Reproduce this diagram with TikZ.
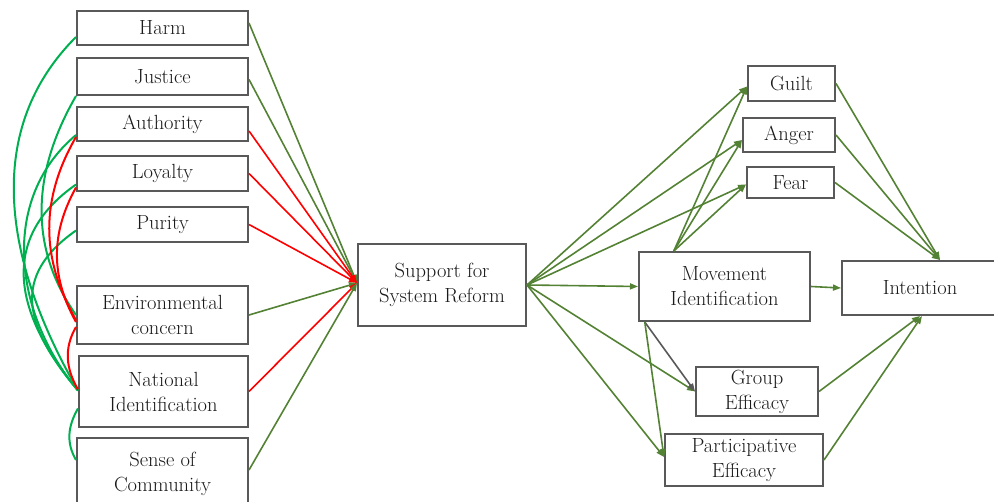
\documentclass[tikz,border=0pt]{standalone}
\usepackage{fontspec}
\definecolor{pathgreen}{HTML}{548235}
\definecolor{corrgreen}{HTML}{00B050}
\definecolor{negred}{HTML}{FF0000}
\definecolor{boxgray}{HTML}{595959}
\definecolor{boxtext}{HTML}{1A1A1A}
\usetikzlibrary{arrows.meta, positioning}
\newcommand{\varfont}{\rmfamily\fontsize{20.5}{25}\selectfont}

\begin{document}
\begin{tikzpicture}[x=1pt, y=-1pt,
    var/.style={draw=boxgray, line width=2pt, fill=white, text=boxtext,
      inner sep=0pt, align=center, font=\varfont},
    effect/.style={draw=pathgreen, line width=1.6pt,
      -{Triangle[length=8pt, width=6pt]}},
    negeffect/.style={effect, draw=negred, fill=negred},
    grayeffect/.style={effect, draw=boxgray},
    corrpos/.style={draw=corrgreen, line width=2pt},
    corrneg/.style={draw=negred, line width=2pt}]
        \useasboundingbox (0,0) rectangle (994,502);
        % Predictors
        \node[var, minimum width=171, minimum height=34] (harm) at (162.5,28) {Harm};
        \node[var, minimum width=171, minimum height=37] (just) at (162.5,76.5) {Justice};
        \node[var, minimum width=171, minimum height=34] (auth) at (162.5,124) {Authority};
        \node[var, minimum width=171, minimum height=35] (loy) at (162.5,173.5) {Loyalty};
        \node[var, minimum width=171, minimum height=35] (pur) at (162.5,224.5) {Purity};
        \node[var, minimum width=171, minimum height=58] (env) at (162.5,315) {Environmental\\concern};
        \node[var, minimum width=169, minimum height=71] (nat) at (163.5,391.5) {National\\Identification};
        \node[var, minimum width=171, minimum height=72] (sense) at (162.5,474) {Sense of\\Community};
        % Central variable
        \node[var, minimum width=168, minimum height=82] (sup) at (442,285) {Support for\\System Reform};
        % Outcomes
        \node[var, minimum width=171, minimum height=69] (mov) at (724.5,286.5) {Movement\\Identification};
        \node[var, minimum width=87, minimum height=35] (guilt) at (791.5,83.5) {Guilt};
        \node[var, minimum width=92, minimum height=34] (anger) at (789,135) {Anger};
        \node[var, minimum width=87, minimum height=31] (fear) at (790.5,182.5) {Fear};
        \node[var, minimum width=122, minimum height=49] (grp) at (757,391.5) {Group\\Efficacy};
        \node[var, minimum width=158, minimum height=52] (part) at (744,460) {Participative\\Efficacy};
        \node[var, minimum width=156, minimum height=54] (int) at (920,288) {Intention};
        % Correlations
        \draw[corrpos] ([yshift=-9pt]harm.west) to[out=225, in=120] ([yshift=1pt]nat.west);
        \draw[corrpos] (just.south west) to[out=240, in=125] (env.west);
        \draw[corrpos] ([yshift=-11pt]auth.west) to[out=220, in=130] ([yshift=1pt]nat.west);
        \draw[corrpos] ([yshift=-11pt]loy.west) to[out=215, in=130, looseness=1.2] ([yshift=1pt]nat.west);
        \draw[corrpos] ([yshift=-6pt]pur.west) to[out=215, in=130, looseness=1.3] ([yshift=1pt]nat.west);
        \draw[corrpos] ([yshift=-17pt]nat.west) to[out=240, in=120] ([yshift=14pt]sense.west);
        \draw[corrneg] ([yshift=-13pt]auth.west) to[out=240, in=120] ([yshift=-5pt]env.west);
        \draw[corrneg] ([yshift=-14pt]loy.west) to[out=241, in=119] ([yshift=-7pt]env.west);
        \draw[corrneg] ([yshift=-12pt]env.west) to[out=240, in=120] ([yshift=2pt]nat.west);
        % Predictors to support
        \draw[effect] ([yshift=5pt]harm.east) -- ([yshift=2pt]sup.west);
        \draw[effect] ([yshift=-3pt]just.east) -- ([yshift=2pt]sup.west);
        \draw[negeffect] ([yshift=-7pt]auth.east) -- ([yshift=2pt]sup.west);
        \draw[negeffect] (loy.east) -- ([yshift=2pt]sup.west);
        \draw[negeffect] (pur.east) -- ([yshift=2pt]sup.west);
        \draw[effect] (env.east) -- ([yshift=2pt]sup.west);
        \draw[negeffect] (nat.east) -- ([yshift=2pt]sup.west);
        \draw[effect] ([yshift=4pt]sense.east) -- ([yshift=2pt]sup.west);
        % Support to outcomes
        \draw[effect] (sup.east) -- ([yshift=-3pt]guilt.west);
        \draw[effect] (sup.east) -- ([yshift=-5pt]anger.west);
        \draw[effect] (sup.east) -- ([yshift=-2pt]fear.west);
        \draw[effect] (sup.east) -- (mov.west);
        \draw[effect] (sup.east) -- (grp.west);
        \draw[effect] (sup.east) -- ([yshift=3pt]part.west);
        % Movement identification
        \draw[effect] (mov.145) -- ([yshift=-3pt]guilt.west);
        \draw[effect] (mov.145) -- ([yshift=-5pt]anger.west);
        \draw[effect] (mov.145) -- ([yshift=-2pt]fear.west);
        \draw[grayeffect] (mov.204) -- (grp.west);
        \draw[effect] (mov.204) -- ([yshift=3pt]part.west);
        \draw[effect] (mov.east) -- (int.west);
        % To intention
        \draw[effect] (guilt.east) -- ([xshift=20pt]int.north);
        \draw[effect] (anger.east) -- ([xshift=20pt]int.north);
        \draw[effect] (fear.east) -- ([xshift=20pt]int.north);
        \draw[effect] (grp.east) -- (int.south);
        \draw[effect] (part.east) -- ([xshift=2pt]int.south);
      \end{tikzpicture}
\end{document}
